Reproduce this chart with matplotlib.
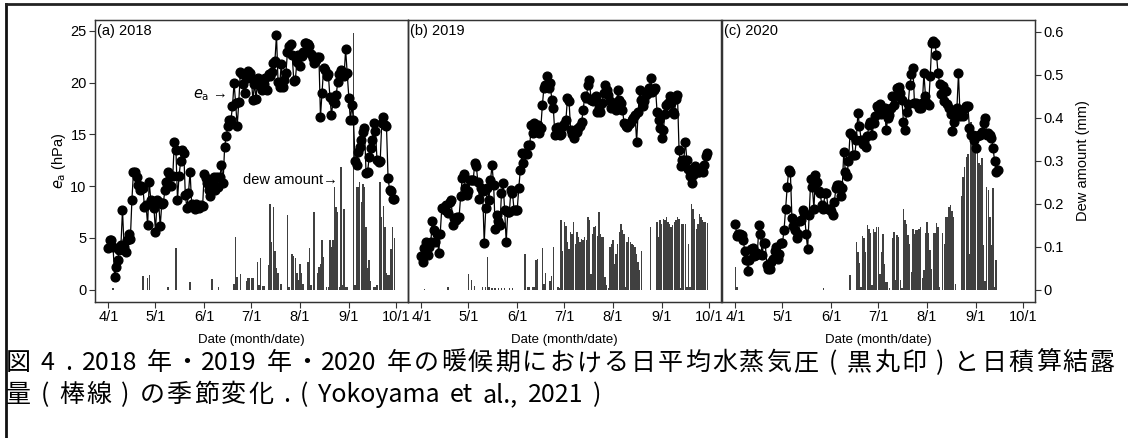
import re
import numpy as np
import matplotlib.pyplot as plt
from matplotlib.lines import Line2D

plt.rcParams['font.family'] = ['Liberation Sans', 'DejaVu Sans']
cjk = ['Noto Sans CJK JP', 'DejaVu Sans']

tick_days = [0, 30, 61, 91, 122, 153, 183]
tick_labels = ['4/1', '5/1', '6/1', '7/1', '8/1', '9/1', '10/1']
years = ['2018', '2019', '2020']
tags = ['(a)', '(b)', '(c)']

# daily mean vapour pressure e_a (hPa), April..September
ea_2018_apr = [4.0, 4.8, 4.8, 4.1, 1.2, 2.2, 2.9, 3.8, 4.3, 7.7, 4.1, 3.6, 4.8, 5.4, 4.9,
               8.7, 11.4, 11.4, 10.9, 10.1, 9.6, 10.0, 9.8, 8.0, 8.2, 6.2, 10.4, 8.7, 8.5, 7.9]
ea_2018_may = [5.6, 8.7, 8.5, 6.1, 8.3, 8.4, 9.6, 10.4, 11.4, 11.0, 10.0, 11.0, 14.3, 13.5, 8.7,
               11.0, 12.4, 13.5, 13.2, 9.1, 7.9, 9.3, 11.4, 8.3, 8.0, 7.8, 8.3, 8.0, 7.9, 8.2, 8.1]
ea_2018_jun = [11.2, 10.8, 10.3, 9.6, 9.0, 10.3, 10.9, 9.6, 10.9, 9.9, 10.9, 12.0, 10.3, 13.8, 14.8,
               15.8, 16.4, 16.4, 17.7, 20.0, 18.0, 15.8, 18.1, 21.0, 20.8, 19.9, 19.0, 20.4, 21.1, 20.9]
ea_2018_jul = [20.4, 18.3, 19.9, 18.4, 20.4, 20.1, 19.6, 19.3, 19.9, 20.4, 19.3, 20.8, 20.6, 21.0, 21.9,
               22.1, 24.6, 20.1, 19.6, 21.8, 19.6, 20.3, 20.9, 23.0, 23.5, 23.7, 22.7, 20.2, 20.3, 22.0, 22.7]
ea_2018_aug = [21.6, 22.6, 23.0, 23.8, 23.8, 23.7, 23.5, 22.8, 22.4, 21.9, 22.2, 22.5, 22.5, 16.7, 19.0,
               21.4, 21.2, 20.6, 20.8, 18.6, 16.9, 18.2, 18.0, 18.8, 20.1, 20.8, 21.2, 21.0, 20.6, 23.2, 20.9]
ea_2018_sep = [18.5, 16.4, 17.8, 16.4, 12.4, 12.0, 13.3, 13.8, 14.5, 15.2, 15.6, 11.3, 11.4, 12.8, 13.7,
               14.5, 16.1, 15.3, 12.5, 12.3, 12.4, 16.1, 16.7, 15.9, 15.8, 10.8, 9.6, 9.5, 8.8, 8.8]

ea_2019_apr = [3.2, 2.7, 4.0, 4.6, 3.3, 4.1, 4.6, 6.6, 5.8, 4.6, 5.4, 3.5, 5.4, 7.9, 7.9,
               7.7, 8.2, 7.4, 8.5, 8.7, 6.2, 6.9, 6.7, 7.0, 7.0, 9.0, 10.8, 11.2, 9.8, 9.1]
ea_2019_may = [9.5, 10.6, 10.6, 10.6, 12.2, 11.9, 10.4, 8.8, 9.8, 9.5, 4.5, 7.9, 9.8, 8.7, 10.6,
               12.0, 10.1, 5.9, 7.2, 6.6, 6.2, 9.3, 10.3, 7.7, 4.6, 7.5, 7.5, 9.6, 9.3, 7.7, 7.7]
ea_2019_jun = [7.7, 9.8, 11.6, 13.2, 12.2, 13.2, 13.1, 14.0, 14.0, 15.9, 15.1, 16.1, 15.6, 15.9, 15.1,
               15.6, 17.8, 19.5, 19.8, 20.6, 19.5, 20.0, 18.3, 17.5, 14.9, 15.6, 15.7, 14.9, 15.0, 15.8]
ea_2019_jul = [16.0, 16.4, 18.5, 18.2, 15.4, 15.0, 14.6, 15.4, 15.2, 15.6, 15.8, 16.2, 17.4, 18.7, 18.5,
               19.8, 20.3, 18.3, 18.2, 18.5, 18.7, 17.2, 17.5, 17.2, 18.0, 19.0, 19.8, 19.3, 18.8, 18.2, 17.5]
ea_2019_aug = [18.0, 17.6, 17.4, 19.3, 18.3, 18.0, 17.4, 16.1, 15.8, 15.7, 16.0, 16.1, 16.4, 16.6, 16.9,
               14.3, 17.2, 19.3, 18.3, 17.7, 18.2, 18.8, 19.0, 19.5, 20.4, 19.1, 19.3, 19.5, 17.2, 16.4, 15.6]
ea_2019_sep = [14.6, 15.4, 17.0, 17.8, 18.0, 18.7, 18.0, 17.2, 17.0, 18.4, 18.8, 13.5, 11.9, 12.5, 12.5,
               14.3, 12.5, 11.7, 11.0, 10.3, 11.1, 11.9, 11.6, 11.4, 11.4, 11.5, 11.4, 12.0, 12.9, 13.2]

ea_2020_apr = [6.3, 5.2, 5.4, 5.4, 5.3, 4.8, 3.7, 2.9, 1.8, 2.9, 3.9, 4.0, 3.2, 3.3, 3.5,
               6.2, 5.4, 3.3, 4.5, 4.5, 2.4, 2.0, 2.0, 2.7, 3.0, 3.7, 4.1, 3.0, 3.4, 4.5]
ea_2020_may = [4.5, 5.8, 7.8, 9.9, 11.6, 11.4, 6.9, 6.1, 5.8, 5.0, 5.4, 6.6, 6.7, 7.7, 7.4,
               5.4, 3.9, 7.2, 10.7, 9.9, 7.8, 11.1, 10.4, 9.5, 9.3, 8.2, 7.8, 9.3, 9.3, 7.8, 7.8]
ea_2020_jun = [7.6, 7.2, 8.5, 9.8, 10.1, 10.1, 9.0, 9.8, 13.3, 11.4, 11.0, 12.4, 15.1, 14.9, 13.0,
               13.0, 14.5, 17.1, 15.8, 14.5, 14.1, 14.3, 13.8, 14.8, 15.9, 16.2, 14.9, 16.1, 16.8, 17.7]
ea_2020_jul = [17.5, 17.9, 17.0, 17.2, 17.5, 15.4, 16.6, 16.9, 17.5, 18.7, 17.8, 18.7, 19.5, 19.6, 19.0,
               18.3, 16.2, 15.4, 17.2, 17.9, 19.8, 20.8, 21.4, 18.0, 18.0, 17.8, 17.5, 17.5, 18.0, 20.9, 18.7]
ea_2020_aug = [18.0, 17.8, 20.6, 23.8, 24.0, 23.8, 22.7, 20.9, 19.9, 18.9, 19.7, 18.2, 19.2, 17.9, 17.5,
               17.0, 15.3, 16.2, 16.8, 17.5, 20.9, 16.8, 17.2, 16.8, 17.5, 17.7, 17.7, 15.6, 14.9, 14.9, 14.5]
ea_2020_sep = [13.7, 14.8, 14.9, 14.9, 15.2, 16.1, 16.6, 14.9, 15.1, 14.9, 14.6, 13.7, 12.4, 11.4, 11.6]

# daily accumulated dew amount (mm)
dew_2018_apr = [0, 0, 0, 0.003, 0, 0, 0, 0, 0, 0, 0, 0, 0, 0, 0,
                0, 0, 0, 0, 0, 0, 0, 0.031, 0, 0, 0.027, 0.034, 0, 0, 0]
dew_2018_may = [0, 0, 0, 0, 0, 0, 0, 0, 0.005, 0, 0, 0, 0, 0.098, 0, 0,
                0, 0, 0, 0, 0, 0, 0.017, 0, 0, 0, 0, 0, 0, 0, 0]
dew_2018_jun = [0, 0, 0, 0, 0, 0.024, 0, 0, 0, 0.007, 0, 0, 0, 0, 0,
                0, 0, 0, 0, 0.012, 0.122, 0.029, 0, 0.036, 0, 0, 0, 0.019, 0.026, 0.026]
dew_2018_jul = [0.026, 0.026, 0, 0, 0.065, 0.010, 0.074, 0.008, 0.008, 0, 0, 0.058, 0.199, 0.110, 0.192,
                0.091, 0.050, 0.038, 0, 0.014, 0, 0, 0, 0.173, 0.006, 0, 0.084, 0.079, 0.074, 0.038, 0.022]
dew_2018_aug = [0.060, 0.038, 0.014, 0, 0, 0.065, 0.096, 0.010, 0, 0.180, 0, 0.038, 0.053, 0.060, 0.115,
                0.077, 0, 0.006, 0.006, 0.115, 0.100, 0.115, 0.238, 0.192, 0.180, 0.006, 0.286, 0.010, 0.187, 0.006, 0.006]
dew_2018_sep = [0, 0, 0, 0.598, 0.010, 0.238, 0.240, 0.250, 0.204, 0.247, 0.240, 0.146, 0.050, 0.070, 0.020,
                0, 0.006, 0.006, 0.010, 0, 0.250, 0.168, 0.194, 0.146, 0.038, 0.034, 0.034, 0.094, 0.146, 0.120]

dew_2019_apr = [0, 0, 0.002, 0, 0, 0, 0, 0, 0, 0, 0, 0, 0, 0, 0,
                0, 0, 0.005, 0, 0, 0, 0, 0, 0, 0, 0, 0, 0, 0, 0]
dew_2019_may = [0.037, 0, 0.023, 0, 0.008, 0, 0, 0, 0, 0.005, 0, 0.006, 0.077, 0.005, 0, 0.003,
                0, 0.003, 0, 0.003, 0, 0.003, 0, 0.003, 0, 0, 0.003, 0, 0.003, 0, 0]
dew_2019_jun = [0, 0, 0, 0, 0, 0.084, 0, 0.005, 0.005, 0, 0.005, 0.005, 0.070, 0.071, 0,
                0, 0.098, 0.012, 0.039, 0, 0, 0.020, 0.031, 0.099, 0, 0, 0.005, 0.003, 0.161, 0.090]
dew_2019_jul = [0.157, 0.149, 0.110, 0.095, 0.134, 0.130, 0.157, 0.107, 0.134, 0.123, 0.110, 0.118, 0.115, 0.123, 0.115,
                0.169, 0.161, 0.037, 0.130, 0.145, 0.149, 0.125, 0.180, 0.130, 0.123, 0.123, 0.029, 0.010, 0.003, 0.099, 0.107]
dew_2019_aug = [0.115, 0.060, 0.084, 0.107, 0.134, 0.153, 0.138, 0.130, 0.006, 0.110, 0.123, 0.110, 0.107, 0.103, 0.099,
                0.084, 0.064, 0.045, 0.091, 0, 0, 0, 0, 0, 0.146, 0, 0, 0, 0.157, 0.123, 0.161]
dew_2019_sep = [0.153, 0.164, 0.161, 0.169, 0.157, 0.153, 0.145, 0.150, 0.157, 0.161, 0.169, 0.165, 0.003, 0.153, 0.153,
                0.153, 0.006, 0.107, 0.006, 0.200, 0.188, 0.164, 0.141, 0.153, 0.176, 0.169, 0.161, 0.157, 0.157, 0.155]

dew_2020_apr = [0.053, 0.005, 0, 0, 0, 0, 0, 0, 0, 0, 0, 0, 0, 0, 0,
                0, 0, 0, 0, 0, 0, 0, 0, 0, 0, 0, 0, 0, 0, 0]
dew_2020_may = [0, 0, 0, 0, 0, 0, 0, 0, 0, 0, 0, 0, 0, 0, 0, 0,
                0, 0, 0, 0, 0, 0, 0, 0, 0, 0, 0.003, 0, 0, 0, 0]
dew_2020_jun = [0, 0, 0, 0, 0, 0, 0, 0, 0, 0, 0, 0, 0.033, 0, 0,
                0, 0.111, 0.088, 0.061, 0.005, 0.125, 0.121, 0.088, 0.150, 0.142, 0.131, 0.010, 0.142, 0.135, 0.146]
dew_2020_jul = [0.146, 0.037, 0.087, 0.130, 0.060, 0.018, 0.018, 0.003, 0, 0.119, 0.134, 0.022, 0.126, 0.122, 0.022,
                0.003, 0.188, 0.161, 0.153, 0.126, 0.107, 0.040, 0.142, 0.130, 0.138, 0.138, 0.142, 0.146, 0.026, 0.045, 0.131]
dew_2020_aug = [0.158, 0.131, 0.093, 0.049, 0.131, 0.131, 0.154, 0.146, 0.006, 0, 0.131, 0.107, 0.169, 0.170, 0.192,
                0.196, 0.184, 0.169, 0.014, 0, 0, 0, 0.219, 0.262, 0.285, 0.308, 0.316, 0.084, 0.391, 0.364, 0.349]
dew_2020_sep = [0.333, 0.321, 0.294, 0.290, 0.306, 0.104, 0.020, 0.240, 0.232, 0.170, 0.104, 0.236, 0.006, 0.068, 0]

ea = {
    '2018': ea_2018_apr + ea_2018_may + ea_2018_jun + ea_2018_jul + ea_2018_aug + ea_2018_sep,
    '2019': ea_2019_apr + ea_2019_may + ea_2019_jun + ea_2019_jul + ea_2019_aug + ea_2019_sep,
    '2020': ea_2020_apr + ea_2020_may + ea_2020_jun + ea_2020_jul + ea_2020_aug + ea_2020_sep,
}
dew = {
    '2018': dew_2018_apr + dew_2018_may + dew_2018_jun + dew_2018_jul + dew_2018_aug + dew_2018_sep,
    '2019': dew_2019_apr + dew_2019_may + dew_2019_jun + dew_2019_jul + dew_2019_aug + dew_2019_sep,
    '2020': dew_2020_apr + dew_2020_may + dew_2020_jun + dew_2020_jul + dew_2020_aug + dew_2020_sep,
}

caption_1 = '図 4 . 2018 年・2019 年・2020 年の暖候期における日平均水蒸気圧 ( 黒丸印 ) と日積算結露'
caption_2 = '量 ( 棒線 ) の季節変化 . ( Yokoyama et al., 2021 )'

W, H = 1128, 438
fig = plt.figure(figsize=(W / 100, H / 100), dpi=100)

ea_lim = (-1.2, 26.05)
dew_lim = (ea_lim[0] * 0.0241, ea_lim[1] * 0.0241)
lefts = [95, 408, 722]
axcol = '#333333'

for i, yr in enumerate(years):
    ax = fig.add_axes([lefts[i] / W, 1 - 302 / H, 313 / W, 282 / H])
    ax2 = ax.twinx()
    ax.set_zorder(ax2.get_zorder() + 1)
    ax.patch.set_visible(False)

    days = np.arange(len(ea[yr]))
    ax2.bar(np.arange(len(dew[yr])), dew[yr], width=0.9, color='#404040', lw=0)
    ax.plot(days, ea[yr], '-', color='black', lw=0.9, marker='o', ms=6.3, mec='black', mfc='black')

    ax.set_xlim(-8.5, 190.7)
    ax.set_ylim(*ea_lim)
    ax2.set_ylim(*dew_lim)
    ax.set_xticks(tick_days)
    ax.set_xticklabels(tick_labels)
    ax.set_xlabel('Date (month/date)', fontsize=9.5, labelpad=7)
    ax.tick_params(axis='both', direction='out', length=4, width=0.8, color=axcol,
                   labelsize=10.5, pad=2)
    for a in (ax, ax2):
        for s in a.spines.values():
            s.set_color(axcol)
            s.set_linewidth(0.9)

    if i == 0:
        ax.set_yticks([0, 5, 10, 15, 20, 25])
        ax.set_ylabel('$e_\\mathrm{a}$ (hPa)', fontsize=10.5, labelpad=2)
    else:
        ax.tick_params(axis='y', left=False, labelleft=False)

    if i == 2:
        ax2.set_yticks([0, 0.1, 0.2, 0.3, 0.4, 0.5, 0.6])
        ax2.set_yticklabels(['0', '0.1', '0.2', '0.3', '0.4', '0.5', '0.6'])
        ax2.tick_params(axis='y', direction='out', length=4, width=0.8, color=axcol,
                        labelsize=10.5, pad=2)
        ax2.set_ylabel('Dew amount (mm)', fontsize=10.5, labelpad=9)
    else:
        ax2.set_yticks([])

    ax.text(0.006, 0.962, tags[i] + ' ' + yr, transform=ax.transAxes,
            fontsize=10.5, va='center', ha='left')

# labels pointing at the two series in panel (a)
fig.axes[0].text(54, 18.8, '$e_\\mathrm{a}$ \u2192', fontsize=10.5, va='center', ha='left')
fig.axes[0].text(86, 10.6, 'dew amount\u2192', fontsize=10.5, va='center', ha='left')


def tokens(s):
    # single ideographs, single spaces, and whole latin words
    return re.findall(r'[!-~]+| |[^ -~]', s)


def advance(tok, size):
    # advance of a token, measured between two ideographs
    r = fig.canvas.get_renderer()

    def width(txt):
        t = fig.text(0, 0, txt, family=cjk, fontsize=size)
        w = t.get_window_extent(r).width
        t.remove()
        return w

    return width('口' + tok + '口') - width('口口')


def caption_line(s, y, x0, x1=None, gap=0.0, size=18):
    toks = tokens(s)
    adv = [advance(t, size) for t in toks]
    if x1 is not None:
        gap = (x1 - x0 - sum(adv)) / (len(toks) - 1)
    x = x0
    for t, a in zip(toks, adv):
        if t != ' ':
            fig.text(x / W, y, t, family=cjk, fontsize=size, va='center', ha='left')
        x += a + gap
    return gap


# the first line fills the width; the second keeps the same spacing
g = caption_line(caption_1, 1 - 363 / H, 6, 1115)
caption_line(caption_2, 1 - 395 / H, 6, gap=g)

# frame around the figure (top and left edges)
fig.add_artist(Line2D([0.0049, 0.0049], [0.0, 0.99], transform=fig.transFigure,
                      color='#111111', lw=2))
fig.add_artist(Line2D([0.0049, 1.0], [0.99, 0.99], transform=fig.transFigure,
                      color='#222222', lw=2))

fig.savefig('out.png', dpi=100)
